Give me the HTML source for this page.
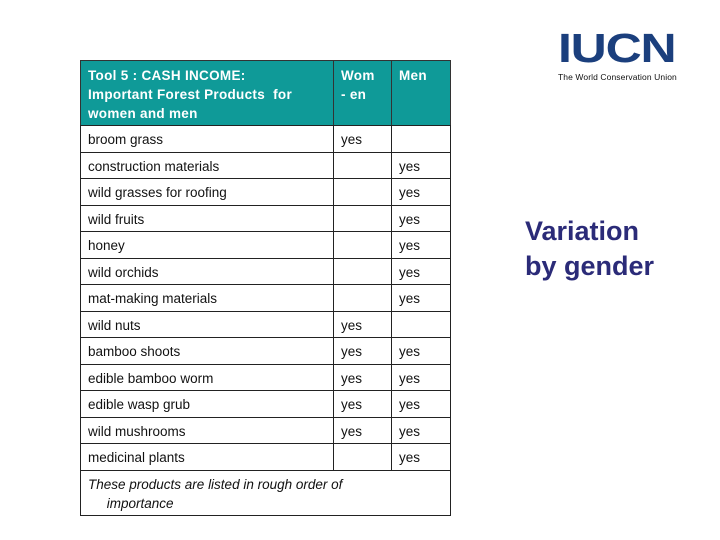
<!DOCTYPE html>
<html><head><meta charset="utf-8">
<style>
body{margin:0;width:720px;height:540px;background:#fff;position:relative;overflow:hidden;font-family:"Liberation Sans",Arial,sans-serif;}
.c{position:absolute;box-sizing:border-box;border:1px solid #222;font-size:13.5px;color:#111;padding:6px 0 0 7px;}
.h{background:#0f9a98;color:#fff;font-weight:bold;font-size:13.5px;line-height:19px;letter-spacing:0.3px;padding-top:5px;border-color:#333;}
#logo{position:absolute;left:558px;top:29px;width:120px;}
#title{position:absolute;left:525px;top:214px;font-size:27px;font-weight:bold;color:#2b2b78;line-height:35px;}
</style></head>
<body>
<div id="tbl"></div>
<div id="logo">
  <div style="font-size:41px;font-weight:bold;color:#1b3f7d;line-height:38px;letter-spacing:-1px;transform:scaleX(1.22);transform-origin:left;white-space:nowrap">IUCN</div>
  <div style="font-size:8.5px;color:#111;margin-top:5px;white-space:nowrap;letter-spacing:0.1px">The World Conservation Union</div>
</div>
<div id="title">Variation<br>by gender</div>
<script>
const products=["broom grass","construction materials","wild grasses for roofing","wild fruits","honey","wild orchids","mat-making materials","wild nuts","bamboo shoots","edible bamboo worm","edible wasp grub","wild mushrooms","medicinal plants"];
const women=[1,0,0,0,0,0,0,1,1,1,1,1,0];
const men=[0,1,1,1,1,1,1,0,1,1,1,1,1];
const X=[80,333,391,450], top0=60, hdrH=65, rowH=26.5;
const t=document.getElementById('tbl');
function cell(x,y,w,h,html,cls,name){
  const d=document.createElement('div');
  d.className='c '+(cls||'');
  d.style.left=x+'px';d.style.top=y+'px';d.style.width=(w+1)+'px';d.style.height=(h+1)+'px';
  d.innerHTML=html;
  
  
  t.appendChild(d);return d;
}
cell(X[0],top0,X[1]-X[0],hdrH,'Tool 5 : CASH INCOME:<br>Important Forest Products &nbsp;for<br>women and men','h','header-product');
cell(X[1],top0,X[2]-X[1],hdrH,'Wom<br>- en','h','header-women');
cell(X[2],top0,X[3]-X[2],hdrH,'Men','h','header-men');
products.forEach((p,i)=>{
  const y=top0+hdrH+i*rowH;
  cell(X[0],y,X[1]-X[0],rowH,p,'','product-cell');
  cell(X[1],y,X[2]-X[1],rowH,women[i]?'yes':'','','women-cell');
  cell(X[2],y,X[3]-X[2],rowH,men[i]?'yes':'','','men-cell');
});
const fy=top0+hdrH+products.length*rowH;
const f=cell(X[0],fy,X[3]-X[0],515-fy,'<i>These products are listed in rough order of<br>&nbsp;&nbsp;&nbsp;&nbsp;&nbsp;importance</i>','','footnote');
f.style.lineHeight='19px';f.style.paddingTop='4px';
</script>
</body></html>
